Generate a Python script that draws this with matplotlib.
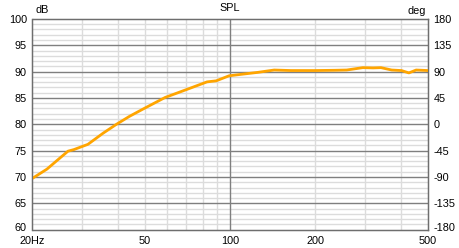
import matplotlib
matplotlib.use("Agg")
import matplotlib.pyplot as plt
import matplotlib.transforms as mtransforms
from matplotlib.ticker import FixedLocator, NullFormatter

freq = [20, 22.5, 24.5, 26.7, 28.0, 31.4, 35.5, 39.6, 44.0, 49.2, 58.9, 70.1, 82.8, 89.2, 99,
        112, 125, 143, 164, 199, 234, 258, 294, 320, 341, 372, 403, 428, 454, 500]
spl = [69.75, 71.5, 73.2, 74.9, 75.2, 76.2, 78.3, 80.0, 81.5, 82.9, 85.1, 86.6, 88.05, 88.25, 89.2,
       89.55, 89.85, 90.3, 90.2, 90.2, 90.25, 90.3, 90.75, 90.7, 90.75, 90.3, 90.2, 89.75, 90.3, 90.2]

x_ticks = [20, 50, 100, 200, 500]
x_labels = ["20Hz", "50", "100", "200", "500"]
x_minor = [30, 40, 50, 60, 70, 80, 90, 200, 300, 400]
db_ticks = [60, 65, 70, 75, 80, 85, 90, 95, 100]
deg_ticks = [-180, -135, -90, -45, 0, 45, 90, 135, 180]

plt.rcParams['font.family'] = ['Liberation Sans', 'DejaVu Sans']
plt.rcParams['axes.unicode_minus'] = False
fs = 7.8
fig = plt.figure(figsize=(4.6, 2.48), dpi=100)
ax = fig.add_axes([32.5/460, 18.3/248, 395.5/460, 210.8/248])
ax.set_xscale('log')
ax.set_xlim(20, 500)
ax.set_ylim(60, 100)

major_c = '#7f7f7f'
minor_c = '#dcdcdc'
for v in range(60, 101):
    if v % 5 != 0:
        ax.axhline(v, color=minor_c, lw=1, zorder=0)
for v in x_minor:
    ax.axvline(v, color=minor_c, lw=1, zorder=0)
for v in db_ticks[1:-1]:
    ax.axhline(v, color=major_c, lw=1, zorder=1)
ax.axvline(100, color=major_c, lw=1, zorder=1)

ax.plot(freq, spl, color='#ffa500', lw=2, zorder=3, solid_capstyle='round')

ax.xaxis.set_major_locator(FixedLocator(x_ticks))
ax.set_xticklabels(x_labels)
ax.xaxis.set_minor_locator(FixedLocator([]))
ax.xaxis.set_minor_formatter(NullFormatter())
ax.set_yticks(db_ticks)
ax.tick_params(axis='both', length=0, labelsize=fs, colors='#000000')
ax.tick_params(axis='x', pad=4.5)
ax.tick_params(axis='y', pad=4)
for s in ax.spines.values():
    s.set_color('#6e6e6e')
    s.set_linewidth(1)

ax2 = ax.twinx()
ax2.set_ylim(-180, 180)
ax2.set_yticks(deg_ticks)
ax2.tick_params(axis='y', length=0, labelsize=fs, pad=4)
for s in ax2.spines.values():
    s.set_color('#6e6e6e')

# bottom y labels sit slightly above their line, as in the reference
shift = mtransforms.ScaledTranslation(0, 2.5/100, fig.dpi_scale_trans)
for lab in (ax.get_yticklabels()[0], ax2.get_yticklabels()[0]):
    lab.set_transform(lab.get_transform() + shift)

fig.text(0.5, 1 - 8/248, "SPL", ha='center', va='center', fontsize=fs)
fig.text(35/460, 1 - 10/248, "dB", ha='left', va='center', fontsize=fs)
fig.text(426/460, 1 - 11/248, "deg", ha='right', va='center', fontsize=fs)

fig.savefig("out.png", dpi=100, facecolor='white')
